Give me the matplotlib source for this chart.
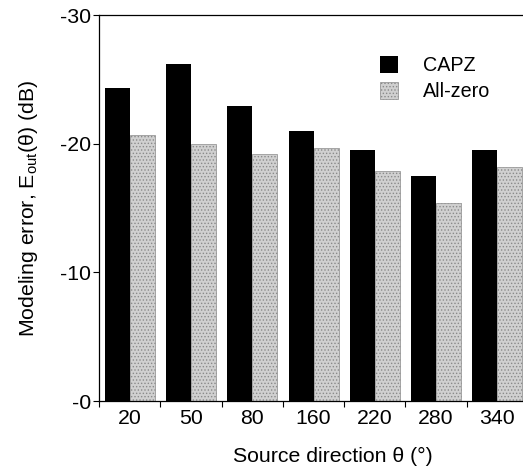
import matplotlib
matplotlib.use("Agg")
import matplotlib.pyplot as plt
import numpy as np

plt.rcParams['font.family'] = ['Liberation Sans', 'DejaVu Sans']
plt.rcParams['hatch.color'] = '#555555'
plt.rcParams['hatch.linewidth'] = 0.6

directions = ['20', '50', '80', '160', '220', '280', '340']
capz = [-24.3, -26.2, -22.9, -21.0, -19.5, -17.5, -19.5]
allzero = [-20.7, -20.0, -19.2, -19.7, -17.9, -15.4, -18.2]
yticks = [0, -10, -20, -30]
yticklabels = ['-0', '-10', '-20', '-30']

fs = 15.3

fig = plt.figure(figsize=(5.23, 4.74), dpi=100)
ax = fig.add_axes([0.1893, 0.154, 1.0096 - 0.1893, 0.968 - 0.154])

x = np.arange(len(directions))
w = 0.408
ax.bar(x - w / 2, capz, width=w, color='black', edgecolor='black', linewidth=0, label='CAPZ')
ax.bar(x + w / 2, allzero, width=w, color='#d0d0d0', edgecolor='#8a8a8a', linewidth=0.5,
       hatch='.....', label='All-zero')

ax.set_xlim(-0.5, len(directions) - 0.5)
ax.set_ylim(0, -30)
ax.set_yticks(yticks)
ax.set_yticklabels(yticklabels, fontsize=fs)

ax.set_xticks(np.arange(-0.5, len(directions) - 0.5 + 0.01, 1.0))
ax.set_xticklabels([])
ax.set_xticks(x, minor=True)
ax.set_xticklabels(directions, minor=True, fontsize=fs)
ax.tick_params(axis='x', which='minor', length=0, pad=6)
ax.tick_params(axis='x', which='major', direction='out', length=4, width=0.8)
ax.tick_params(axis='y', direction='out', length=4, width=0.8, pad=2)

for s in ['left', 'top', 'bottom']:
    ax.spines[s].set_linewidth(0.9)
ax.spines['right'].set_visible(False)

ax.set_xlabel('Source direction θ (°)', fontsize=fs, labelpad=12)
ax.xaxis.set_label_coords(0.545, -0.118)
ax.set_ylabel(r'Modeling error, E$_{\mathregular{out}}$(θ) (dB)', fontsize=fs, labelpad=14)

ax.legend(loc='upper left', bbox_to_anchor=(0.636, 0.915), frameon=False, fontsize=14.2,
          handlelength=0.95, handleheight=0.95, handletextpad=1.25, labelspacing=0.35,
          borderaxespad=0)

fig.savefig('out.png', dpi=100)
